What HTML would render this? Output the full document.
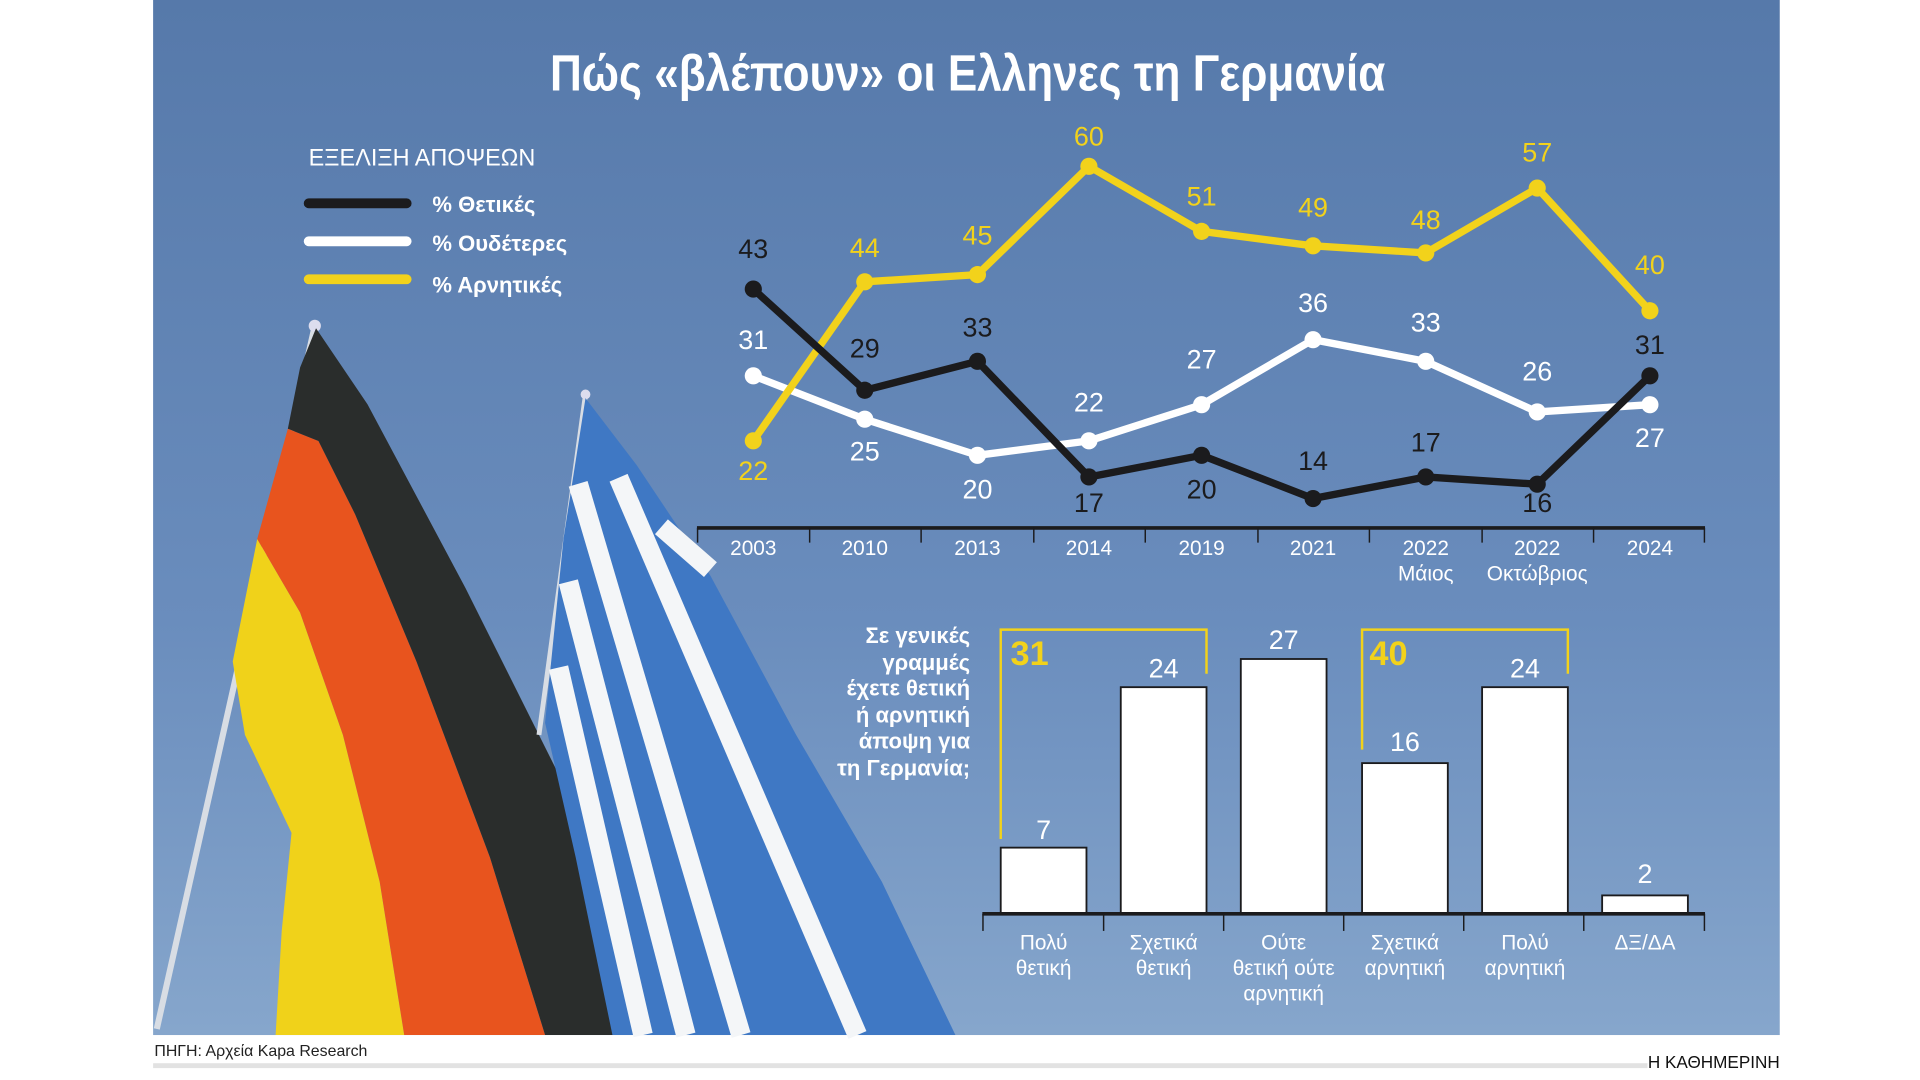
<!DOCTYPE html>
<html><head><meta charset="utf-8"><style>
html,body{margin:0;padding:0;background:#fff;}
svg{display:block;}
text{font-family:"Liberation Sans Narrow","Liberation Sans","DejaVu Sans Condensed",sans-serif;}
</style></head><body>
<svg width="1920" height="1080" viewBox="0 0 1567.5 881.7" preserveAspectRatio="none" xmlns="http://www.w3.org/2000/svg">
<defs>
<linearGradient id="bg" x1="0" y1="0" x2="0" y2="1">
<stop offset="0" stop-color="#5679aa"/><stop offset="0.6" stop-color="#6a8dbd"/><stop offset="1" stop-color="#86a6cc"/>
</linearGradient>
</defs>
<rect x="0" y="0" width="1567.5" height="881.7" fill="#fff"/>
<rect x="125" y="0" width="1328" height="845" fill="url(#bg)"/>
<!-- German flag -->
<line x1="257" y1="266" x2="128" y2="840" stroke="#d8dde4" stroke-width="5"/>
<circle cx="257" cy="266" r="5" fill="#dde"/>
<polygon points="210,440 245,500 280,600 310,720 330,845 225,845 230,760 238,680 200,600 190,540" fill="#f0d21a"/>
<polygon points="235,350 260,360 290,420 340,540 400,700 445,845 330,845 310,720 280,600 245,500 210,440" fill="#e8541e"/>
<polygon points="258,268 300,330 380,480 460,640 520,760 555,845 445,845 400,700 340,540 290,420 260,360 235,350 245,300" fill="#2a2d2c"/>
<!-- Greek flag -->
<line x1="478" y1="322" x2="440" y2="600" stroke="#d8dde4" stroke-width="4"/>
<circle cx="478" cy="322" r="4" fill="#dde"/>
<polygon points="478,325 520,380 580,470 650,600 720,720 780,845 500,845 470,700 445,590 460,440" fill="#3f78c4"/>
<g stroke="#f4f6f8" stroke-width="16" fill="none">
<line x1="472" y1="395" x2="605" y2="845"/>
<line x1="464" y1="475" x2="560" y2="845"/>
<line x1="456" y1="545" x2="525" y2="845"/>
<line x1="505" y1="390" x2="700" y2="845"/>
<line x1="540" y1="430" x2="580" y2="465"/>
</g>
<!-- Title -->
<text x="790" y="74" text-anchor="middle" font-size="42" font-weight="bold" fill="#fff" textLength="682" lengthAdjust="spacingAndGlyphs">Πώς «βλέπουν» οι Ελληνες τη Γερμανία</text>
<!-- Legend -->
<text x="252" y="135" font-size="20" fill="#fff" textLength="185" lengthAdjust="spacingAndGlyphs">ΕΞΕΛΙΞΗ ΑΠΟΨΕΩΝ</text>
<line x1="252" y1="166" x2="332" y2="166" stroke="#1b1b1d" stroke-width="8" stroke-linecap="round"/>
<line x1="252" y1="197" x2="332" y2="197" stroke="#fff" stroke-width="8" stroke-linecap="round"/>
<line x1="252" y1="228" x2="332" y2="228" stroke="#f2d21b" stroke-width="8" stroke-linecap="round"/>
<g font-size="18" font-weight="bold" fill="#fff">
<text x="353" y="173">% Θετικές</text><text x="353" y="205">% Ουδέτερες</text><text x="353" y="239">% Αρνητικές</text>
</g>
<!-- line chart -->
<g fill="none" stroke-width="6" stroke-linejoin="round">
<polyline stroke="#fff" points="615,306.8 706,342.2 798,371.7 889,359.9 981,330.4 1072,277.3 1164,295 1255,336.3 1347,330.4"/>
<polyline stroke="#f2d21b" points="615,359.9 706,230.1 798,224.2 889,135.8 981,188.9 1072,200.7 1164,206.5 1255,153.5 1347,253.7"/>
<polyline stroke="#1b1b1d" points="615,236 706,318.6 798,295 889,389.4 981,371.7 1072,407 1164,389.4 1255,395.3 1347,306.8"/>
</g>
<g fill="#fff">
<circle cx="615" cy="306.8" r="7"/><circle cx="706" cy="342.2" r="7"/><circle cx="798" cy="371.7" r="7"/><circle cx="889" cy="359.9" r="7"/><circle cx="981" cy="330.4" r="7"/><circle cx="1072" cy="277.3" r="7"/><circle cx="1164" cy="295" r="7"/><circle cx="1255" cy="336.3" r="7"/><circle cx="1347" cy="330.4" r="7"/>
</g>
<g fill="#f2d21b">
<circle cx="615" cy="359.9" r="7"/><circle cx="706" cy="230.1" r="7"/><circle cx="798" cy="224.2" r="7"/><circle cx="889" cy="135.8" r="7"/><circle cx="981" cy="188.9" r="7"/><circle cx="1072" cy="200.7" r="7"/><circle cx="1164" cy="206.5" r="7"/><circle cx="1255" cy="153.5" r="7"/><circle cx="1347" cy="253.7" r="7"/>
</g>
<g fill="#1b1b1d">
<circle cx="615" cy="236" r="7"/><circle cx="706" cy="318.6" r="7"/><circle cx="798" cy="295" r="7"/><circle cx="889" cy="389.4" r="7"/><circle cx="981" cy="371.7" r="7"/><circle cx="1072" cy="407" r="7"/><circle cx="1164" cy="389.4" r="7"/><circle cx="1255" cy="395.3" r="7"/><circle cx="1347" cy="306.8" r="7"/>
</g>
<g font-size="22" text-anchor="middle" dominant-baseline="middle">
<g fill="#1b1b1d">
<text x="615" y="205">43</text><text x="706" y="286">29</text><text x="798" y="269">33</text><text x="889" y="412">17</text><text x="981" y="401">20</text><text x="1072" y="378">14</text><text x="1164" y="363">17</text><text x="1255" y="412">16</text><text x="1347" y="283">31</text>
</g>
<g fill="#fff">
<text x="615" y="279">31</text><text x="706" y="370">25</text><text x="798" y="401">20</text><text x="889" y="330">22</text><text x="981" y="295">27</text><text x="1072" y="249">36</text><text x="1164" y="265">33</text><text x="1255" y="305">26</text><text x="1347" y="359">27</text>
</g>
<g fill="#f2d21b">
<text x="615" y="386">22</text><text x="706" y="204">44</text><text x="798" y="194">45</text><text x="889" y="113">60</text><text x="981" y="162">51</text><text x="1072" y="171">49</text><text x="1164" y="181">48</text><text x="1255" y="126">57</text><text x="1347" y="218">40</text>
</g>
</g>
<line x1="569" y1="431" x2="1392" y2="431" stroke="#1b1b1d" stroke-width="3"/>
<g stroke="#1b1b1d" stroke-width="1.2">
<line x1="569.5" y1="431" x2="569.5" y2="443"/><line x1="661" y1="431" x2="661" y2="443"/><line x1="752" y1="431" x2="752" y2="443"/><line x1="844" y1="431" x2="844" y2="443"/><line x1="935" y1="431" x2="935" y2="443"/><line x1="1027" y1="431" x2="1027" y2="443"/><line x1="1118" y1="431" x2="1118" y2="443"/><line x1="1210" y1="431" x2="1210" y2="443"/><line x1="1301" y1="431" x2="1301" y2="443"/><line x1="1391.5" y1="431" x2="1391.5" y2="443"/>
</g>
<g font-size="17" text-anchor="middle" fill="#fff">
<text x="615" y="453">2003</text><text x="706" y="453">2010</text><text x="798" y="453">2013</text><text x="889" y="453">2014</text><text x="981" y="453">2019</text><text x="1072" y="453">2021</text><text x="1164" y="453">2022</text><text x="1255" y="453">2022</text><text x="1347" y="453">2024</text>
<text x="1164" y="474">Μάιος</text><text x="1255" y="474">Οκτώβριος</text>
</g>
<!-- bar chart -->
<g font-size="18" font-weight="bold" fill="#fff" text-anchor="end">
<text x="792" y="525">Σε γενικές</text><text x="792" y="547">γραμμές</text><text x="792" y="568">έχετε θετική</text><text x="792" y="590">ή αρνητική</text><text x="792" y="611">άποψη για</text><text x="792" y="633">τη Γερμανία;</text>
</g>
<g fill="none" stroke="#f2d21b" stroke-width="2">
<polyline points="817,685 817,514 985,514 985,550"/>
<polyline points="1112,612 1112,514 1280,514 1280,550"/>
</g>
<text x="825" y="543" font-size="28" font-weight="bold" fill="#f2d21b">31</text>
<text x="1118" y="543" font-size="28" font-weight="bold" fill="#f2d21b">40</text>
<g fill="#fff" stroke="#1b1b1d" stroke-width="1.5">
<rect x="817" y="692" width="70" height="54"/>
<rect x="915" y="561" width="70" height="185"/>
<rect x="1013" y="538" width="70" height="208"/>
<rect x="1112" y="623" width="70" height="123"/>
<rect x="1210" y="561" width="70" height="185"/>
<rect x="1308" y="731" width="70" height="15"/>
</g>
<g font-size="22" text-anchor="middle" fill="#fff">
<text x="852" y="685">7</text><text x="950" y="553">24</text><text x="1048" y="530">27</text><text x="1147" y="613">16</text><text x="1245" y="553">24</text><text x="1343" y="721">2</text>
</g>
<line x1="802" y1="746" x2="1392" y2="746" stroke="#1b1b1d" stroke-width="3"/>
<g stroke="#1b1b1d" stroke-width="1.2">
<line x1="802.5" y1="746" x2="802.5" y2="760"/><line x1="901" y1="746" x2="901" y2="760"/><line x1="999" y1="746" x2="999" y2="760"/><line x1="1097" y1="746" x2="1097" y2="760"/><line x1="1195" y1="746" x2="1195" y2="760"/><line x1="1293" y1="746" x2="1293" y2="760"/><line x1="1391.5" y1="746" x2="1391.5" y2="760"/>
</g>
<g font-size="17" text-anchor="middle" fill="#fff">
<text x="852" y="775">Πολύ</text><text x="852" y="796">θετική</text>
<text x="950" y="775">Σχετικά</text><text x="950" y="796">θετική</text>
<text x="1048" y="775">Ούτε</text><text x="1048" y="796">θετική ούτε</text><text x="1048" y="817">αρνητική</text>
<text x="1147" y="775">Σχετικά</text><text x="1147" y="796">αρνητική</text>
<text x="1245" y="775">Πολύ</text><text x="1245" y="796">αρνητική</text>
<text x="1343" y="775">ΔΞ/ΔΑ</text>
</g>
<!-- footer -->
<text x="126" y="862" font-size="13" fill="#222">ΠΗΓΗ: Αρχεία Kapa Research</text>
<rect x="125" y="868" width="1220" height="4" fill="#e2e2e2"/>
<text x="1453" y="872" font-size="14" text-anchor="end" fill="#111" font-family="Liberation Serif,serif">Η ΚΑΘΗΜΕΡΙΝΗ</text>
</svg>
</body></html>
